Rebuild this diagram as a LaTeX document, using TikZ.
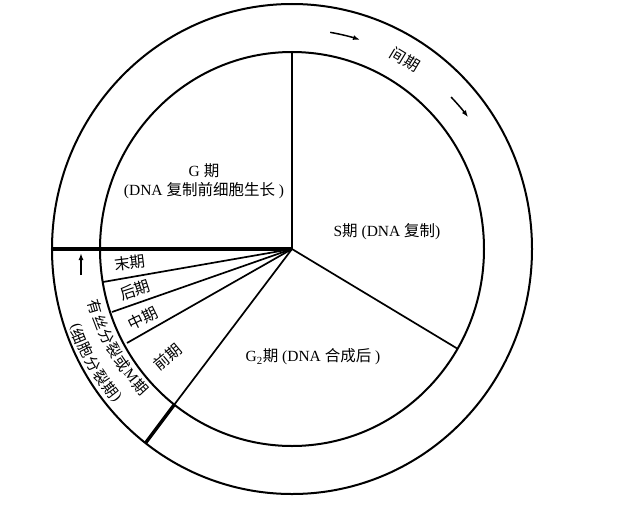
\documentclass[tikz,border=0pt]{standalone}
\usepackage{fontspec}
\setmainfont{Liberation Serif}
\newfontfamily\cjk{Noto Sans CJK SC}
\usetikzlibrary{arrows.meta}
\newcommand\zh[1]{{\cjk #1}}
\begin{document}
\begin{tikzpicture}[x=1pt,y=1pt,
  ring/.style={line width=2pt},
  divider/.style={line width=1.7pt},
  thickdiv/.style={line width=3.4pt},
  lab/.style={font=\fontsize{15.5}{19}\selectfont, inner sep=0pt, align=center},
  ringch/.style={font=\fontsize{15}{17}\selectfont, inner sep=0pt},
  flow/.style={line width=1.5pt, -{Latex[length=7pt,width=5pt]}}]
\useasboundingbox (-292,-260) rectangle (331,249);
\coordinate (O) at (0,0);
\coordinate (gs) at (0,197);
\coordinate (sg) at (166,-100);
\coordinate (gm) at (-118,-156);
\coordinate (gmo) at (-146.5,-194);
\coordinate (mo) at (-240,0);
\coordinate (ta) at (-189,-33);
\coordinate (am) at (-180,-63);
\coordinate (mp) at (-165,-94);
% circles
\draw[ring] (O) ellipse[x radius=240, y radius=245];
\draw[ring] (O) ellipse[x radius=192, y radius=197];
% dividers
\draw[divider] (O) -- (gs);
\draw[divider] (O) -- (sg);
\draw[divider] (O) -- (gm);
\draw[thickdiv] (gm) -- (gmo);
\draw[thickdiv] (O) -- (mo);
\draw[divider] (O) -- (ta);
\draw[divider] (O) -- (am);
\draw[divider] (O) -- (mp);
% labels
\node[lab] (g1) at (-88,67.5) {G \zh{期}\\(DNA \zh{复制前细胞生长} )};
\node[lab] (s) at (95,17) {S\zh{期} (DNA \zh{复制})};
\node[lab] (g2) at (21,-108) {G\textsubscript{2}\zh{期} (DNA \zh{合成后} )};
\node[lab, rotate=-31] (jq) at (113,189) {\zh{间期}};
\node[lab, rotate=7] (mo1) at (-162,-14) {\zh{末期}};
\node[lab, rotate=18] (ho) at (-157,-41) {\zh{后期}};
\node[lab, rotate=26] (zh) at (-149,-69) {\zh{中期}};
\node[lab, rotate=40] (qi) at (-124,-108) {\zh{前期}};
% ring text, line 1
\foreach \a/\c [count=\i] in {196.5/\zh{有}, 200.9/\zh{丝}, 205.3/\zh{分}, 209.7/\zh{裂}, 214.1/\zh{或}, 218.3/M, 222.5/\zh{期}}
  \node[ringch, rotate=\a+90] (la\i) at (\a:205) {\c};
% ring text, line 2
\foreach \a/\c [count=\i] in {199.6/(, 202.2/\zh{细}, 206.1/\zh{胞}, 210/\zh{分}, 213.9/\zh{裂}, 217.8/\zh{期}, 220.4/)}
  \node[ringch, rotate=\a+90] (lb\i) at (\a:230) {\c};
% arrows
\draw[flow] (80:220) arc[start angle=80, end angle=72, radius=220];
\draw[flow] (43.7:220) arc[start angle=43.7, end angle=36.8, radius=220];
\coordinate (up1) at (-211,-26);
\coordinate (up2) at (-211,-4);
\draw[flow] (up1) -- (up2);
\end{tikzpicture}
\end{document}
